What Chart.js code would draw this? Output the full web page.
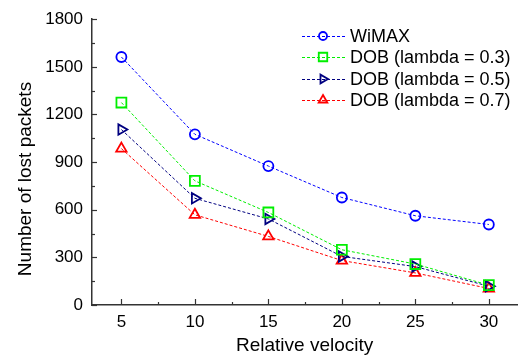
<!DOCTYPE html>
<html>
<head>
<meta charset="utf-8">
<script src="https://cdn.jsdelivr.net/npm/chart.js@4/dist/chart.umd.min.js"></script>
<style>
  html, body { margin: 0; padding: 0; background: #fff; }
  #wrap { width: 526px; height: 358px; }
</style>
</head>
<body>
<div id="wrap"><canvas id="lostChart"></canvas></div>
<script>
// data
const velocity = [5, 10, 15, 20, 25, 30];
const wimax = [1562, 1075, 875, 677, 562, 507];
const dob03 = [1275, 782, 583, 348, 258, 125];
const dob05 = [1105, 672, 542, 306, 242, 118];
const dob07 = [985, 568, 432, 280, 202, 104];
const xTicks = [5, 10, 15, 20, 25, 30];
const yTicks = [0, 300, 600, 900, 1200, 1500, 1800];

const FONT = 'Liberation Sans, Arial, sans-serif';

function pts(ys) {
    return velocity.map(function (v, i) { return { x: v, y: ys[i] }; });
}

function series(label, ys, color, style, radius, rotation) {
    return {
        label: label,
        data: pts(ys),
        borderColor: color,
        borderWidth: 1,
        borderDash: [3, 2],
        showLine: true,
        fill: false,
        pointStyle: style,
        pointRadius: radius,
        pointRotation: rotation || 0,
        pointBorderColor: color,
        pointBackgroundColor: 'rgba(255,255,255,0)',
        pointBorderWidth: 1.8
    };
}

// inward minor/major ticks, y title and the legend
const decorations = {
    id: 'decorations',
    afterDraw: function (chart) {
        const ctx = chart.ctx;
        const xs = chart.scales.x, ys = chart.scales.y;
        const area = chart.chartArea;
        ctx.save();
        ctx.strokeStyle = '#333';
        ctx.lineWidth = 1.2;
        for (let v = 0; v <= 1800; v += 150) {
            const py = Math.round(ys.getPixelForValue(v)) + 0.5;
            const len = v % 300 === 0 ? 5 : 3;
            ctx.beginPath();
            ctx.moveTo(area.left, py);
            ctx.lineTo(area.left + len, py);
            ctx.stroke();
        }
        for (let v = 5; v <= 30; v += 2.5) {
            const px = Math.round(xs.getPixelForValue(v)) + 0.5;
            const len = v % 5 === 0 ? 6 : 3;
            ctx.beginPath();
            ctx.moveTo(px, area.bottom);
            ctx.lineTo(px, area.bottom - len);
            ctx.stroke();
        }

        // y title
        ctx.fillStyle = '#000';
        ctx.font = '19px ' + FONT;
        ctx.textAlign = 'center';
        ctx.textBaseline = 'middle';
        ctx.save();
        ctx.translate(26, 179);
        ctx.rotate(-Math.PI / 2);
        ctx.fillText('Number of lost packets', 0, 0);
        ctx.restore();

        // legend
        const rowY = [36, 57, 79, 100];
        chart.data.datasets.forEach(function (ds, i) {
            const y = rowY[i];
            ctx.strokeStyle = ds.borderColor;
            ctx.lineWidth = 1;
            ctx.setLineDash([3, 2]);
            ctx.beginPath();
            ctx.moveTo(302, y + 0.5);
            ctx.lineTo(345, y + 0.5);
            ctx.stroke();
            ctx.setLineDash([]);
            ctx.fillStyle = 'rgba(255,255,255,0)';
            ctx.lineWidth = 1.8;
            Chart.helpers.drawPoint(ctx, {
                pointStyle: ds.pointStyle,
                radius: ds.pointRadius - 1,
                rotation: ds.pointRotation,
                borderWidth: 1.8
            }, 323, y);
            ctx.fillStyle = '#000';
            ctx.font = '18px ' + FONT;
            ctx.textAlign = 'left';
            ctx.fillText(ds.label, 350, y + 1);
        });
        ctx.restore();
    }
};

document.addEventListener('DOMContentLoaded', function () {
    const ctx = document.getElementById('lostChart').getContext('2d');
    new Chart(ctx, {
        type: 'scatter',
        data: {
            datasets: [
                series('WiMAX', wimax, '#0000ff', 'circle', 5),
                series('DOB (lambda = 0.3)', dob03, '#00ee00', 'rect', 7),
                series('DOB (lambda = 0.5)', dob05, '#000080', 'triangle', 6, 90),
                series('DOB (lambda = 0.7)', dob07, '#ff0000', 'triangle', 6)
            ]
        },
        options: {
            responsive: true,
            maintainAspectRatio: false,
            animation: false,
            layout: { padding: { top: 17, right: 0, left: 0, bottom: 0 } },
            plugins: {
                legend: { display: false },
                tooltip: { enabled: false }
            },
            scales: {
                x: {
                    type: 'linear',
                    min: 3,
                    max: 31.93,
                    afterBuildTicks: function (scale) {
                        scale.ticks = xTicks.map(function (v) { return { value: v }; });
                    },
                    afterFit: function (scale) { scale.height = 53; },
                    grid: { display: true, drawOnChartArea: false, drawTicks: false },
                    border: { display: true, color: '#333', width: 1.5 },
                    ticks: {
                        color: '#000', padding: 7, font: { family: FONT, size: 17 },
                        callback: function (v) { return String(v); }
                    },
                    title: {
                        display: true,
                        text: 'Relative velocity',
                        color: '#000',
                        font: { family: FONT, size: 19 },
                        padding: { top: 0, bottom: 1 }
                    }
                },
                y: {
                    min: 0,
                    max: 1800,
                    afterBuildTicks: function (scale) {
                        scale.ticks = yTicks.map(function (v) { return { value: v }; });
                    },
                    afterFit: function (scale) { scale.width = 92; },
                    grid: { display: true, drawOnChartArea: false, drawTicks: false },
                    border: { display: true, color: '#333', width: 1.5 },
                    ticks: {
                        color: '#000', padding: 9, font: { family: FONT, size: 17 },
                        callback: function (v) { return String(v); }
                    }
                }
            }
        },
        plugins: [decorations]
    });
});
</script>
</body>
</html>
